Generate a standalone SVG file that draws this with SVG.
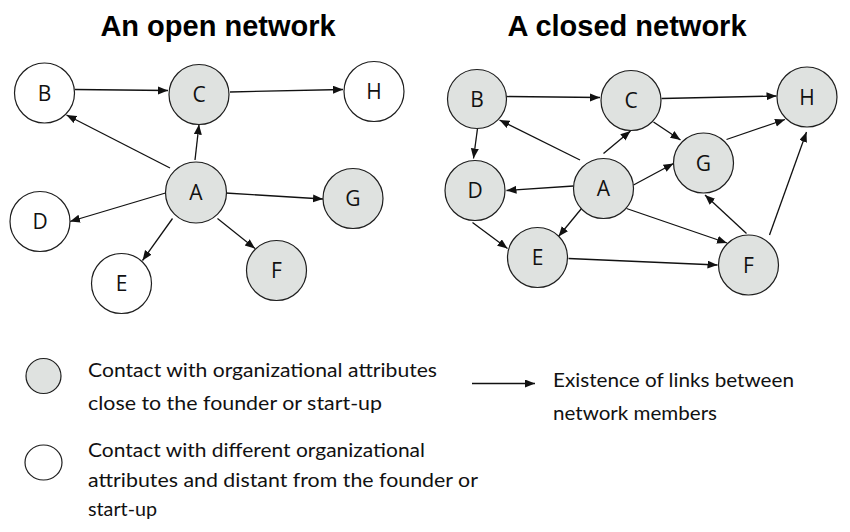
<svg xmlns="http://www.w3.org/2000/svg" width="850" height="532" viewBox="0 0 850 532">
<defs>
<marker id="ah" markerUnits="userSpaceOnUse" markerWidth="11" markerHeight="9" refX="10" refY="4" orient="auto">
<path d="M0,0 L10,4 L0,8 z" fill="#111"/>
</marker>
<style>
.title{font-family:"Liberation Sans",Arial,sans-serif;font-weight:bold;font-size:29px;fill:#000;text-anchor:middle}
.node circle{stroke:#1e1e1e;stroke-width:1.2}
.g{fill:#dfe2e0}
.w{fill:#fff}
.lbl{font-family:"Open Sans",sans-serif;font-size:21px;fill:#111;text-anchor:middle}
.edges line{stroke:#111;stroke-width:1.3;marker-end:url(#ah)}
.leg{font-family:Lato,"Open Sans",sans-serif;font-size:19.5px;fill:#111}
</style>
</defs>
<rect width="850" height="532" fill="#fff"/>
<text class="title" x="218" y="36">An open network</text>
<text class="title" x="627" y="36">A closed network</text>

<g id="open-edges" class="edges">
<line x1="75" y1="89.5" x2="168" y2="90.5"/>
<line x1="230" y1="92" x2="343" y2="89.5"/>
<line x1="170" y1="168" x2="66.5" y2="115"/>
<line x1="195" y1="160" x2="199" y2="124.5"/>
<line x1="165.5" y1="193" x2="70" y2="221.5"/>
<line x1="172.5" y1="218.5" x2="142.5" y2="260.5"/>
<line x1="217.5" y1="218.5" x2="255" y2="248.5"/>
<line x1="225.5" y1="193" x2="323" y2="199"/>
</g>

<g id="open-B" class="node"><circle class="w" cx="44.5" cy="93" r="30"/><text class="lbl" x="44.5" y="100.5">B</text></g>
<g id="open-C" class="node"><circle class="g" cx="199" cy="94.5" r="30"/><text class="lbl" x="199" y="102">C</text></g>
<g id="open-H" class="node"><circle class="w" cx="374" cy="91.5" r="30"/><text class="lbl" x="374" y="99">H</text></g>
<g id="open-A" class="node"><circle class="g" cx="196" cy="192.5" r="30.5"/><text class="lbl" x="196" y="200">A</text></g>
<g id="open-D" class="node"><circle class="w" cx="40" cy="221.5" r="30"/><text class="lbl" x="40" y="229">D</text></g>
<g id="open-E" class="node"><circle class="w" cx="121.5" cy="283.5" r="30"/><text class="lbl" x="121.5" y="291">E</text></g>
<g id="open-F" class="node"><circle class="g" cx="276.5" cy="270.5" r="30"/><text class="lbl" x="276.5" y="278">F</text></g>
<g id="open-G" class="node"><circle class="g" cx="353" cy="198.5" r="30"/><text class="lbl" x="353" y="206">G</text></g>

<g id="closed-edges" class="edges">
<line x1="506.5" y1="96.5" x2="600" y2="97.5"/>
<line x1="661.5" y1="98.5" x2="776.5" y2="96"/>
<line x1="477.5" y1="128.5" x2="473.5" y2="158.5"/>
<line x1="580" y1="160" x2="499.5" y2="120"/>
<line x1="603.5" y1="153.5" x2="630.5" y2="131"/>
<line x1="573.5" y1="186" x2="506.5" y2="190.5"/>
<line x1="633.5" y1="185" x2="673.5" y2="163.5"/>
<line x1="581.5" y1="208.5" x2="558.5" y2="236.5"/>
<line x1="626.5" y1="208.5" x2="727" y2="243"/>
<line x1="653.5" y1="122" x2="680.5" y2="140"/>
<line x1="726.5" y1="139.5" x2="785" y2="119.5"/>
<line x1="746.5" y1="233.5" x2="705" y2="195"/>
<line x1="769.5" y1="235" x2="806.5" y2="132"/>
<line x1="472.5" y1="222.5" x2="507.5" y2="248.5"/>
<line x1="568.5" y1="258.5" x2="717.5" y2="265"/>
</g>

<g id="closed-B" class="node"><circle class="g" cx="477" cy="99" r="29.5"/><text class="lbl" x="477" y="106.5">B</text></g>
<g id="closed-C" class="node"><circle class="g" cx="631" cy="100.5" r="30"/><text class="lbl" x="631" y="108">C</text></g>
<g id="closed-H" class="node"><circle class="g" cx="807" cy="97" r="30"/><text class="lbl" x="807" y="104.5">H</text></g>
<g id="closed-G" class="node"><circle class="g" cx="703.5" cy="163" r="30"/><text class="lbl" x="703.5" y="170.5">G</text></g>
<g id="closed-D" class="node"><circle class="g" cx="475" cy="190.5" r="30"/><text class="lbl" x="475" y="198">D</text></g>
<g id="closed-A" class="node"><circle class="g" cx="603.5" cy="188.5" r="30"/><text class="lbl" x="603.5" y="196">A</text></g>
<g id="closed-E" class="node"><circle class="g" cx="537.5" cy="257.5" r="30"/><text class="lbl" x="537.5" y="265">E</text></g>
<g id="closed-F" class="node"><circle class="g" cx="748.5" cy="265" r="30"/><text class="lbl" x="748.5" y="272.5">F</text></g>

<g id="legend">
<circle class="g" cx="43.5" cy="376" r="17.5" stroke="#1e1e1e" stroke-width="1.2"/>
<ellipse class="w" cx="43.5" cy="462.5" rx="18.5" ry="17.5" stroke="#1e1e1e" stroke-width="1.2"/>
<text class="leg" x="88" y="377" textLength="349" lengthAdjust="spacingAndGlyphs">Contact with organizational attributes</text>
<text class="leg" x="88" y="409.5" textLength="294" lengthAdjust="spacingAndGlyphs">close to the founder or start-up</text>
<text class="leg" x="88" y="457" textLength="337" lengthAdjust="spacingAndGlyphs">Contact with different organizational</text>
<text class="leg" x="88" y="487" textLength="390" lengthAdjust="spacingAndGlyphs">attributes and distant from the founder or</text>
<text class="leg" x="88" y="516" textLength="69" lengthAdjust="spacingAndGlyphs">start-up</text>
<line x1="472" y1="383.5" x2="535" y2="383.5" stroke="#111" stroke-width="1.3" marker-end="url(#ah)"/>
<text class="leg" x="553" y="387" textLength="241" lengthAdjust="spacingAndGlyphs">Existence of links between</text>
<text class="leg" x="553" y="419.5" textLength="164" lengthAdjust="spacingAndGlyphs">network members</text>
</g>
</svg>
